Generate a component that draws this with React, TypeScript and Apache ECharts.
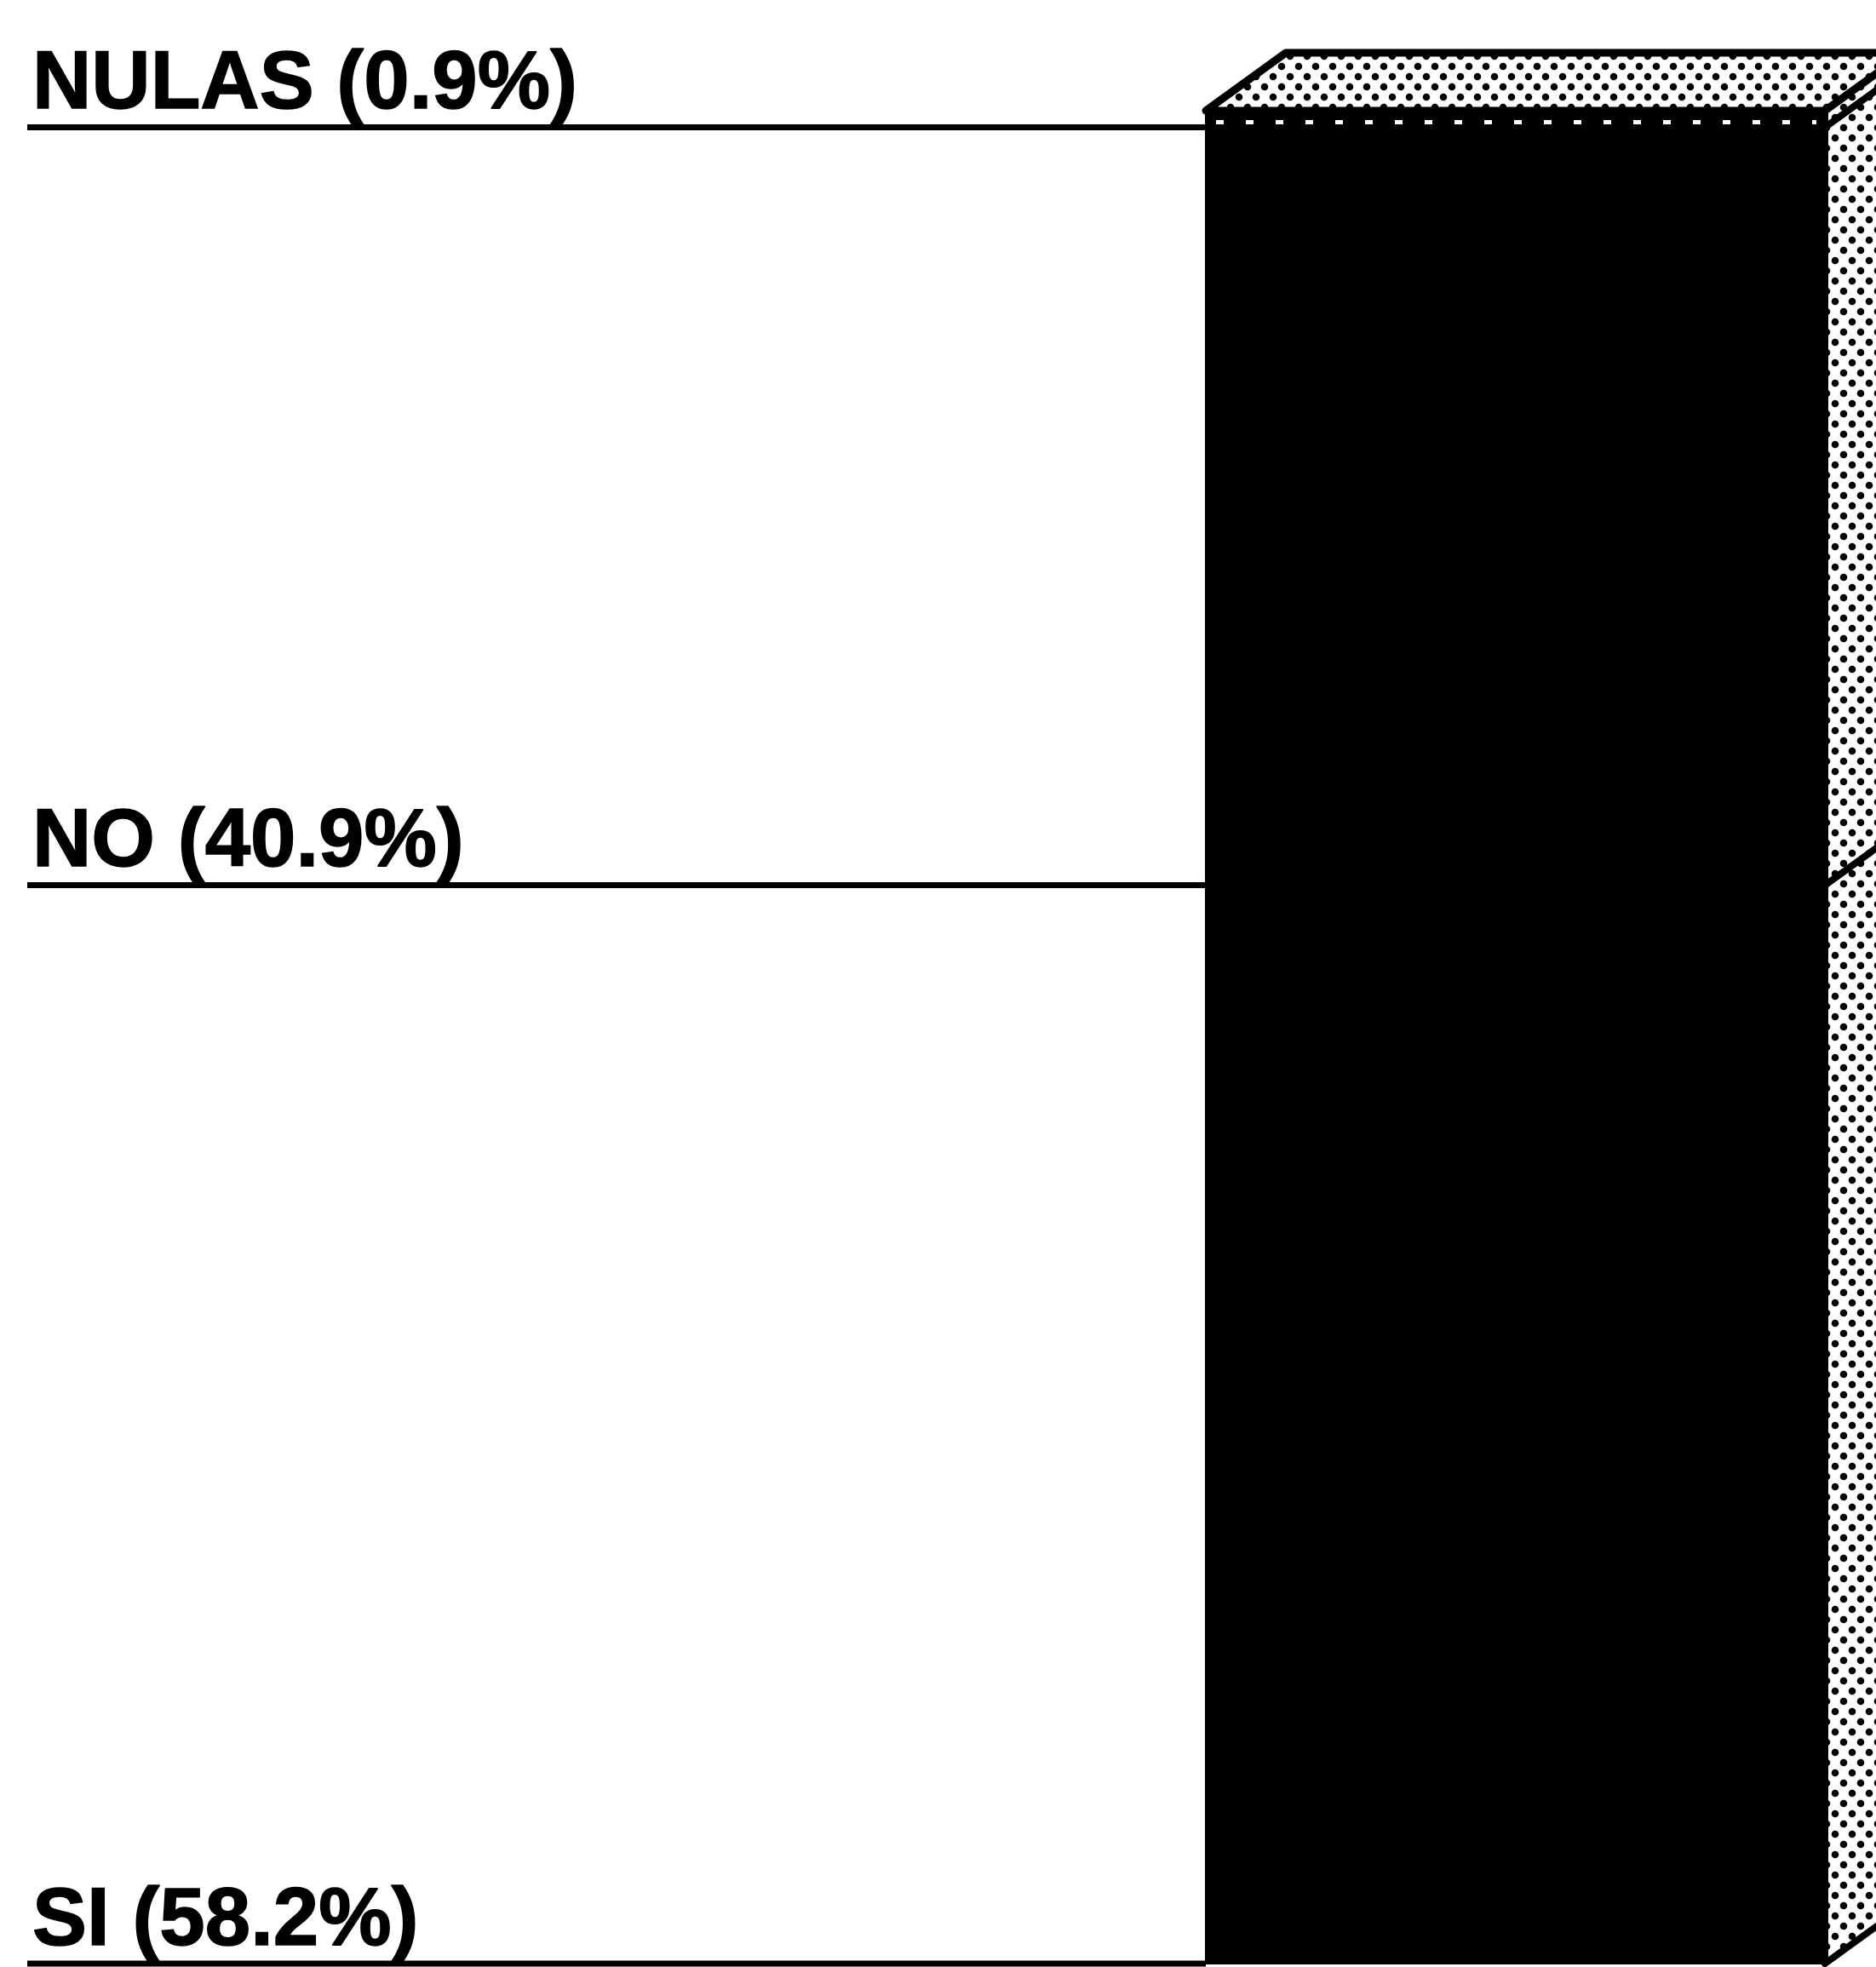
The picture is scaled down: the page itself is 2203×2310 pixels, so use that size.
import React, { useEffect, useRef } from "react";
import * as echarts from "echarts";

// ---- data ----
const categories = ["Referéndum"];
const segments = ["SI", "NO", "NULAS"];
const shares = [58.2, 40.9, 0.9];

function makeDots(): HTMLCanvasElement {
  const c = document.createElement("canvas");
  c.width = 20;
  c.height = 24;
  const g = c.getContext("2d")!;
  g.fillStyle = "#ffffff";
  g.fillRect(0, 0, 20, 24);
  g.fillStyle = "#000000";
  const pts = [
    [5, 6],
    [15, 18],
  ];
  for (const [x, y] of pts) {
    g.beginPath();
    g.arc(x, y, 4.3, 0, Math.PI * 2);
    g.fill();
  }
  return c;
}

export default function App() {
  const ref = useRef<HTMLDivElement>(null);
  useEffect(() => {
    if (!ref.current) return;
    const chart = echarts.init(ref.current, undefined, { renderer: "svg" });
    const dots = makeDots();
    const pattern: any = { image: dots, repeat: "repeat", imageWidth: 20, imageHeight: 24 };

    const data: number[][] = [];
    let acc = 0;
    shares.forEach((s, i) => {
      data.push([0, acc, acc + s, i]);
      acc += s;
    });

    const DX = 94;
    const DY = -68;
    const lineLeft = 32;
    const textLeft = 38;
    const font = 'bold 96px "Liberation Sans", Arial, sans-serif';

    const option: any = {
      animation: false,
      backgroundColor: "#ffffff",
      grid: { left: 1416, right: 60, top: 130, bottom: 4 },
      xAxis: { type: "category", data: categories, show: false },
      yAxis: { type: "value", min: 0, max: 100, show: false },
      series: [
        {
          type: "custom",
          clip: false,
          encode: { x: 0, y: [1, 2] },
          data,
          renderItem: (params: any, api: any) => {
            const idx = api.value(3);
            const start = api.value(1);
            const end = api.value(2);
            const pBot = api.coord([0, start]);
            const pTop = api.coord([0, end]);
            const bw = api.size([1, 0])[0];
            const xL = pBot[0] - bw / 2;
            const xR = pBot[0] + bw / 2;
            const yB = pBot[1];
            const yT = pTop[1];
            const last = idx === shares.length - 1;
            const children: any[] = [];
            children.push({
              type: "rect",
              shape: { x: xL, y: yT, width: bw, height: yB - yT },
              style: { fill: "#000000", stroke: "#000000", lineWidth: 2 },
            });
            children.push({
              type: "polygon",
              shape: {
                points: [
                  [xR, yB],
                  [xR + DX, yB + DY],
                  [xR + DX, yT + DY],
                  [xR, yT],
                ],
              },
              style: { fill: pattern, stroke: "#000000", lineWidth: 8, lineJoin: "round" },
            });
            if (last) {
              children.push({
                type: "polygon",
                shape: {
                  points: [
                    [xL, yT],
                    [xL + DX, yT + DY],
                    [xR + DX, yT + DY],
                    [xR, yT],
                  ],
                },
                style: { fill: pattern, stroke: "#000000", lineWidth: 9, lineJoin: "round" },
              });
              children.push({
                type: "line",
                shape: { x1: xL + 12, y1: yB - 6, x2: xR - 10, y2: yB - 6 },
                style: { stroke: "#ffffff", lineWidth: 5, lineDash: [9, 26] },
              });
            }
            children.push({
              type: "line",
              shape: { x1: lineLeft, y1: yB, x2: xL, y2: yB },
              style: { stroke: "#000000", lineWidth: 7 },
            });
            children.push({
              type: "text",
              style: {
                text: `${segments[idx]} (${shares[idx]}%)`,
                x: textLeft,
                y: yB - 8,
                fill: "#000000",
                font,
                textAlign: "left",
                textVerticalAlign: "bottom",
                stroke: "#000000",
                lineWidth: 1.5,
              },
            });
            return { type: "group", children };
          },
        },
      ],
    };
    chart.setOption(option);
    return () => chart.dispose();
  }, []);
  return (
    <div
      ref={ref}
      style={{ position: "fixed", left: 0, top: 0, width: 2203, height: 2310, background: "#fff" }}
    />
  );
}
